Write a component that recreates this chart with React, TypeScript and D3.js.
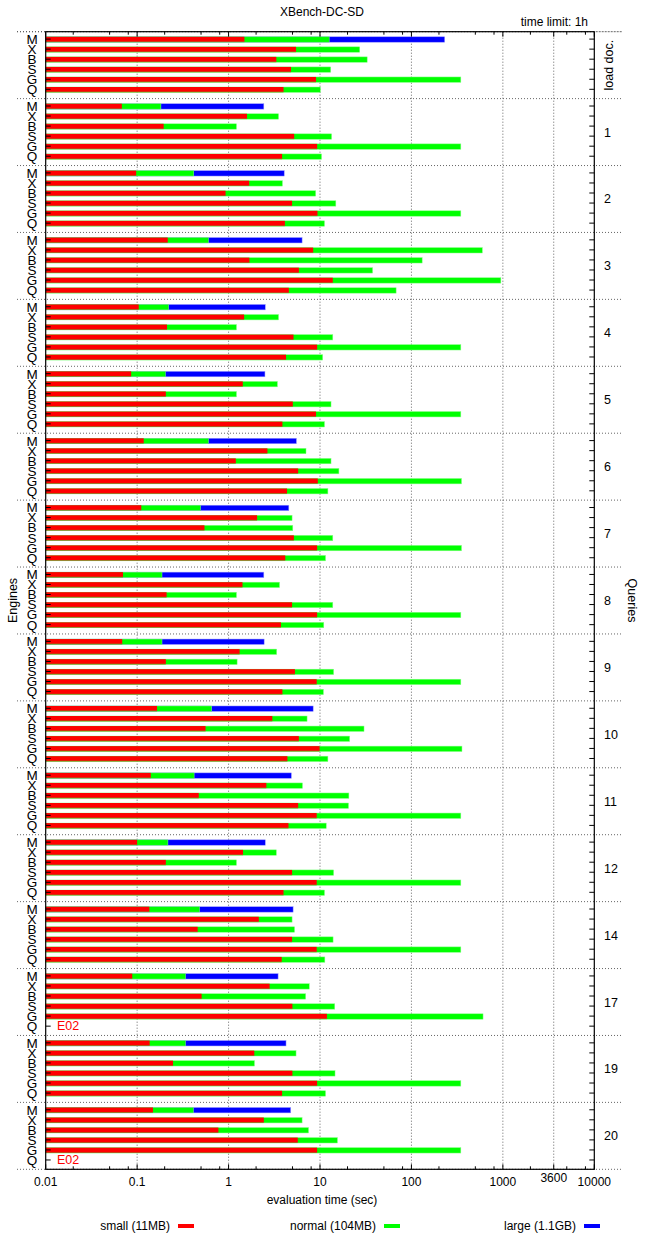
import * as d3 from "d3";

const groups = ["load doc.", "1", "2", "3", "4", "5", "6", "7", "8", "9", "10", "11", "12", "14", "17", "19", "20"];
const engines = ["M", "X", "B", "S", "G", "Q"];

// seconds per engine [M, X, B, S, G, Q]; null = error (E02)
const smallTimes = [
  [1.49, 5.47, 3.33, 4.82, 9.05, 3.99],
  [0.068, 1.59, 0.195, 5.22, 9.3, 3.85],
  [0.0976, 1.68, 0.927, 4.95, 9.38, 4.13],
  [0.216, 8.42, 1.69, 5.87, 13.8, 4.56],
  [0.104, 1.48, 0.212, 5.13, 9.3, 4.25],
  [0.086, 1.43, 0.206, 5.04, 9.05, 3.88],
  [0.118, 2.66, 1.2, 5.77, 9.46, 4.36],
  [0.111, 2.05, 0.545, 5.18, 9.3, 4.17],
  [0.07, 1.42, 0.21, 4.95, 9.3, 3.74],
  [0.0687, 1.32, 0.206, 5.32, 9.2, 3.88],
  [0.165, 3.01, 0.56, 5.87, 9.9, 4.4],
  [0.141, 2.59, 0.472, 5.77, 9.2, 4.52],
  [0.1, 1.44, 0.206, 4.95, 9.2, 3.99],
  [0.136, 2.14, 0.459, 4.95, 9.2, 3.81],
  [0.0884, 2.81, 0.507, 4.99, 11.9, null],
  [0.137, 1.91, 0.247, 4.99, 9.3, 3.85],
  [0.149, 2.43, 0.774, 5.71, 9.3, null],
];

const normalTimes = [
  [12.6, 27.2, 32.8, 13.1, 347, 10.1],
  [0.182, 3.52, 1.22, 13.4, 347, 10.4],
  [0.416, 3.88, 8.97, 14.9, 347, 11.2],
  [0.602, 596, 131, 37.6, 951, 68],
  [0.221, 3.52, 1.22, 13.8, 347, 10.7],
  [0.204, 3.42, 1.22, 13.2, 347, 11.2],
  [0.602, 7.03, 13.2, 16.1, 353, 12.2],
  [0.493, 4.95, 5.04, 13.8, 353, 11.5],
  [0.187, 3.61, 1.22, 13.8, 347, 11.0],
  [0.187, 3.36, 1.24, 14.1, 347, 10.9],
  [0.653, 7.22, 30.3, 21.1, 357, 12.2],
  [0.42, 6.43, 20.7, 20.5, 347, 11.7],
  [0.217, 3.33, 1.22, 14.1, 347, 11.2],
  [0.481, 4.95, 5.27, 13.9, 347, 11.3],
  [0.338, 7.63, 6.97, 14.5, 607, null],
  [0.338, 5.47, 1.92, 14.6, 347, 11.5],
  [0.412, 6.37, 7.49, 15.5, 347, null],
];

// only engine M ran the large document
const largeTimesM = [231, 2.43, 4.06, 6.37, 2.52, 2.5, 5.52, 4.56, 2.43, 2.45, 8.42, 4.86, 2.52, 5.08, 3.48, 4.25, 4.78];

const majorTicks = [0.01, 0.1, 1, 10, 100, 1000, 3600, 10000];
const tickLabels = ["0.01", "0.1", "1", "10", "100", "1000", "3600", "10000"];
const gridTicks = [0.1, 1, 10, 100, 1000, 3600];

const legendItems = [
  { label: "small (11MB)", color: "#ff0000", x: 170 },
  { label: "normal (104MB)", color: "#00ff00", x: 376 },
  { label: "large (1.1GB)", color: "#0000ff", x: 576 },
];

const W = 648;
const H = 1233;
const left = 45.7;
const right = 594.3;
const top = 31.7;
const bottom = 1169.3;
const font = "'Liberation Sans', Arial, sans-serif";

const App = () => {
  const x = d3.scaleLog().domain([0.01, 10000]).range([left, right]);
  const yg = d3.scaleBand().domain(groups).range([top, bottom]).paddingInner(0).paddingOuter(0);
  const ye = d3.scalePoint().domain(engines).range([7.4, 57.6]);

  const minorTicks: number[] = [];
  for (let e = -2; e < 4; e++) {
    [2, 5, 8].forEach((m) => minorTicks.push(m * Math.pow(10, e)));
  }

  const barH = 4.6;
  const x0 = x(0.01);

  return (
    <>
      <style>{`body{margin:0}`}</style>
      <svg width={W} height={H} style={{ display: "block", fontFamily: font }}>
        <rect width={W} height={H} fill="#fff" />

        {/* title */}
        <text x={322} y={16} textAnchor="middle" fontSize={12}>XBench-DC-SD</text>
        <text x={588} y={26} textAnchor="end" fontSize={12}>time limit: 1h</text>

        {/* vertical grid */}
        {gridTicks.map((t) => (
          <line key={"g" + t} x1={x(t)} x2={x(t)} y1={top} y2={bottom}
            stroke="#555" strokeWidth={0.9} strokeDasharray="1,2" />
        ))}

        {/* group separators (dotted, run past the frame) */}
        {groups.map((g) => (
          <line key={"s" + g} x1={17} x2={622} y1={yg(g)} y2={yg(g)}
            stroke="#555" strokeWidth={0.9} strokeDasharray="1,2" />
        ))}
        <line x1={17} x2={622} y1={bottom} y2={bottom} stroke="#555" strokeWidth={0.9} strokeDasharray="1,2" />

        {/* bars */}
        {groups.map((g, gi) => (
          <g key={"b" + g} transform={`translate(0,${yg(g)})`}>
            {engines.map((en, ei) => {
              const cy = ye(en)!;
              const s = smallTimes[gi][ei];
              const n = normalTimes[gi][ei];
              const l = en === "M" ? largeTimesM[gi] : null;
              if (s == null) {
                return (
                  <text key={en} x={57} y={cy + 4.3} fontSize={12.5} fill="#ff0000">E02</text>
                );
              }
              return (
                <g key={en}>
                  {l != null && (
                    <rect x={x0} y={cy - barH / 2} width={x(l) - x0} height={barH + 0.8} fill="#0000ff" stroke="#9999ff" strokeWidth={0.5} />
                  )}
                  {n != null && (
                    <rect x={x0} y={cy - barH / 2} width={x(n) - x0} height={barH + 0.8} fill="#00ff00" stroke="#88ff88" strokeWidth={0.5} />
                  )}
                  <rect x={x0} y={cy + barH / 2 - 0.4} width={x(s) - x0} height={1.1} fill="#b0602a" />
                  <rect x={x0} y={cy - barH / 2} width={x(s) - x0} height={barH} fill="#ff0000" />
                </g>
              );
            })}
          </g>
        ))}

        {/* frame */}
        <rect x={left} y={top} width={right - left} height={bottom - top} fill="none" stroke="#000" strokeWidth={1.2} />
        <line x1={17} x2={left} y1={top} y2={top} stroke="#555" strokeWidth={0.9} strokeDasharray="1,2" />
        <line x1={right} x2={622} y1={top} y2={top} stroke="#555" strokeWidth={0.9} strokeDasharray="1,2" />

        {/* x ticks top and bottom */}
        {majorTicks.map((t) => (
          <g key={"mt" + t}>
            <line x1={x(t)} x2={x(t)} y1={bottom} y2={bottom - 5} stroke="#000" />
            <line x1={x(t)} x2={x(t)} y1={top} y2={top + 5} stroke="#000" />
          </g>
        ))}
        {minorTicks.map((t) => (
          <g key={"mn" + t}>
            <line x1={x(t)} x2={x(t)} y1={bottom} y2={bottom - 3} stroke="#000" />
            <line x1={x(t)} x2={x(t)} y1={top} y2={top + 3} stroke="#000" />
          </g>
        ))}
        {majorTicks.map((t, i) => (
          <text key={"tl" + t} x={x(t)} y={t === 3600 ? 1182 : 1186} textAnchor="middle" fontSize={12}>
            {tickLabels[i]}
          </text>
        ))}

        {/* y ticks and labels */}
        {groups.map((g) => (
          <g key={"yt" + g} transform={`translate(0,${yg(g)})`}>
            {engines.map((en) => (
              <g key={en}>
                <line x1={left} x2={left + 5} y1={ye(en)} y2={ye(en)} stroke="#000" />
                <line x1={right - 5} x2={right} y1={ye(en)} y2={ye(en)} stroke="#000" />
                <text x={32} y={ye(en)! + 4.9} textAnchor="middle" fontSize={13.5}>{en}</text>
              </g>
            ))}
            {g === "load doc." ? (
              <text transform={`translate(${613},${yg.bandwidth() / 2}) rotate(-90)`} textAnchor="middle" fontSize={12.5}>
                {g}
              </text>
            ) : (
              <text x={604} y={yg.bandwidth() / 2 + 4.5} fontSize={12.5}>{g}</text>
            )}
          </g>
        ))}

        {/* axis titles */}
        <text transform={`translate(17,${(top + bottom) / 2}) rotate(-90)`} textAnchor="middle" fontSize={12.5}>Engines</text>
        <text transform={`translate(628,${(top + bottom) / 2}) rotate(90)`} textAnchor="middle" fontSize={12.5}>Queries</text>
        <text x={322} y={1204} textAnchor="middle" fontSize={12}>evaluation time (sec)</text>

        {/* legend */}
        {legendItems.map((it) => (
          <g key={it.label}>
            <text x={it.x} y={1230} textAnchor="end" fontSize={12}>{it.label}</text>
            <rect x={it.x + 8} y={1224} width={16} height={4} fill={it.color} />
          </g>
        ))}
      </svg>
    </>
  );
};

export default App;
